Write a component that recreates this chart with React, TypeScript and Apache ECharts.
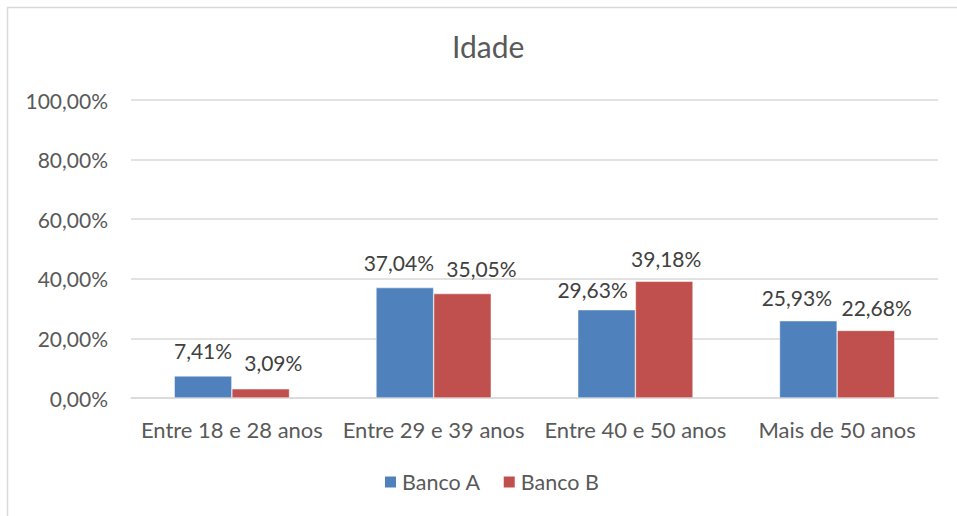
import React, { useEffect, useRef } from "react";
import * as echarts from "echarts";

const categories = ["Entre 18 e 28 anos", "Entre 29 e 39 anos", "Entre 40 e 50 anos", "Mais de 50 anos"];
const seriesNames = ["Banco A", "Banco B"];
const bancoA = [7.41, 37.04, 29.63, 25.93];
const bancoB = [3.09, 35.05, 39.18, 22.68];
const titleText = "Idade";

// label nudges (px) to mirror the reference's overlap-avoiding label placement
const labelShiftA = [[0, 0], [-6, 0], [-14, 5.5], [-11.5, 2.3]];
const labelShiftB = [[12.6, -0.8], [19, 0], [2, 2.7], [10.7, 2.5]];

const fmt = (v: number) => v.toFixed(2).replace(".", ",") + "%";
const FONT = "Lato, 'Noto Sans', sans-serif";
const TXT = "#595959";

export default function App() {
  const ref = useRef<HTMLDivElement>(null);
  useEffect(() => {
    if (!ref.current) return;
    const chart = echarts.init(ref.current, null, { renderer: "svg" });
    const labelBase = {
      show: true,
      position: "top",
      distance: 15,
      color: "#404040",
      fontSize: 21,
      fontFamily: FONT,
      formatter: (p: any) => fmt(p.value),
    };
    chart.setOption({
      animation: false,
      backgroundColor: "#ffffff",
      textStyle: { fontFamily: FONT },
      title: {
        text: titleText,
        left: 452,
        top: 31,
        padding: 0,
        textStyle: { fontFamily: FONT, fontSize: 30, fontWeight: "normal", color: TXT },
      },
      graphic: [
        {
          type: "rect",
          shape: { x: 7.5, y: 7.5, width: 980, height: 540 },
          style: { fill: "none", stroke: "#d9d9d9", lineWidth: 1.5 },
          silent: true,
        },
      ],
      legend: {
        data: seriesNames,
        left: 383,
        top: 471,
        padding: 0,
        itemWidth: 13,
        itemHeight: 13,
        itemGap: 21,
        icon: "rect",
        textStyle: { fontFamily: FONT, fontSize: 21.5, color: TXT },
      },
      grid: { left: 131, right: 19, top: 100, bottom: 118, containLabel: false },
      xAxis: {
        type: "category",
        data: categories,
        axisLine: { show: true, lineStyle: { color: "#d9d9d9", width: 1.5 } },
        axisTick: { show: false },
        axisLabel: { color: TXT, fontSize: 22, fontFamily: FONT, margin: 20, interval: 0 },
      },
      yAxis: {
        type: "value",
        min: 0,
        max: 100,
        interval: 20,
        axisLine: { show: false },
        axisTick: { show: false },
        splitLine: { lineStyle: { color: "#d9d9d9", width: 1.5 } },
        axisLabel: { color: TXT, fontSize: 21, fontFamily: FONT, margin: 23, formatter: (v: number) => fmt(v) },
      },
      series: [
        {
          name: seriesNames[0],
          type: "bar",
          data: bancoA.map((v, i) => ({ value: v, label: { offset: labelShiftA[i] } })),
          barGap: "0%",
          barCategoryGap: "42.86%",
          itemStyle: { color: "#4F81BD", borderColor: "#ffffff", borderWidth: 0.5 },
          label: labelBase,
        },
        {
          name: seriesNames[1],
          type: "bar",
          data: bancoB.map((v, i) => ({ value: v, label: { offset: labelShiftB[i] } })),
          barGap: "0%",
          barCategoryGap: "42.86%",
          itemStyle: { color: "#C0504D", borderColor: "#ffffff", borderWidth: 0.5 },
          label: labelBase,
        },
      ],
    });
    return () => chart.dispose();
  }, []);
  return (
    <div
      ref={ref}
      style={{ position: "absolute", left: 0, top: 0, width: 957, height: 516, overflow: "hidden" }}
    />
  );
}
